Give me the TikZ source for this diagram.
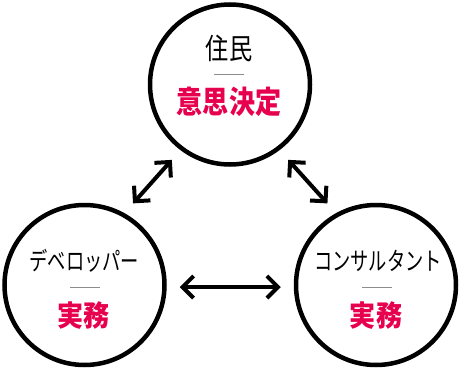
\documentclass[tikz,border=0pt]{standalone}
\usepackage{fontspec}
\usetikzlibrary{arrows.meta,positioning}
\newfontfamily\jpname[FakeStretch=0.8]{Noto Sans CJK JP}
\newfontfamily\jpkana[FakeStretch=0.73]{Noto Sans CJK JP}
\newfontfamily\jptask[FakeStretch=0.84]{Noto Sans CJK JP}
\newfontfamily\jpwork[FakeStretch=0.9]{Noto Sans CJK JP}
\definecolor{Rose}{HTML}{E6004E}
\definecolor{RuleGray}{HTML}{8C8C8C}

\begin{document}
\begin{tikzpicture}[
  x=1pt,y=1pt,
  actor/.style={circle,draw=black,line width=4.5pt,minimum size=160pt,inner sep=0pt},
  role/.style={anchor=base,font=\jpkana\fontsize{25}{25}\selectfont},
  task/.style={anchor=base,text=Rose,font=\jpwork\bfseries\fontsize{29}{29}\selectfont},
  rulebar/.style={fill=RuleGray,minimum width=30pt,minimum height=0.8pt,inner sep=0pt},
  arr/.style={{Straight Barb[length=11pt,width=22pt]}-{Straight Barb[length=11pt,width=22pt]},line width=4pt,shorten >=13pt,shorten <=13pt}
]
\useasboundingbox (0,0) rectangle (461,368);
% the three parties
\node[actor] (res) at (230,283.5) {};
\node[actor] (dev) at (84.5,83) {};
\node[actor] (con) at (376,83) {};
% residents
\node[role,font=\jpname\fontsize{29}{29}\selectfont] (resname) at ([xshift=-1pt,yshift=25pt]res.center) {住民};
\node[rulebar] (resbar) at ([xshift=-1pt,yshift=10.2pt]res.center) {};
\node[task,font=\jptask\bfseries\fontsize{31}{31}\selectfont] (restask) at ([xshift=-1pt,yshift=-29pt]res.center) {意思決定};
% developer
\node[role] (devname) at ([yshift=14.5pt]dev.center) {デベロッパー};
\node[rulebar] (devbar) at ([yshift=-2.3pt]dev.center) {};
\node[task] (devtask) at ([xshift=-1pt,yshift=-41pt]dev.center) {実務};
% consultant
\node[role] (conname) at ([xshift=2pt,yshift=14.5pt]con.center) {コンサルタント};
\node[rulebar] (conbar) at ([xshift=1pt,yshift=-2.3pt]con.center) {};
\node[task] (contask) at ([yshift=-41pt]con.center) {実務};
% relations
\draw[arr] (dev.61) -- (res.233);
\draw[arr] (res.307) -- (con.119);
\draw[arr] ([yshift=-2pt]dev.east) -- ([yshift=-2pt]con.west);
\end{tikzpicture}
\end{document}
